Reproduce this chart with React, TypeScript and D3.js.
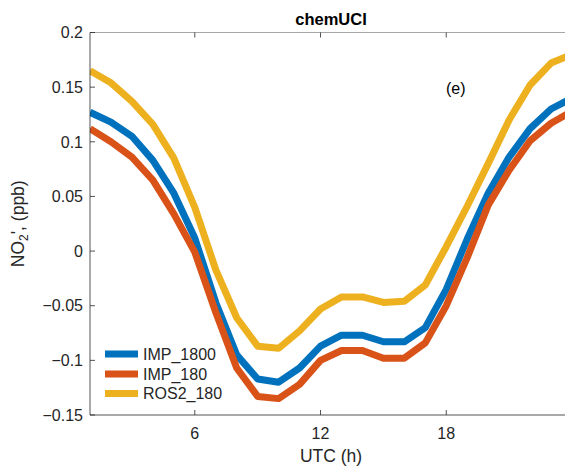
import * as d3 from "d3";
import { useEffect, useRef } from "react";

const hours = d3.range(1, 25);
const seriesNames = ["IMP_1800", "IMP_180", "ROS2_180"];
const imp1800 = [0.127, 0.118, 0.105, 0.083, 0.053, 0.012, -0.047, -0.095, -0.117, -0.12, -0.107, -0.087,
  -0.077, -0.077, -0.083, -0.083, -0.07, -0.035, 0.011, 0.053, 0.086, 0.112, 0.13, 0.14];
const imp180 = [0.112, 0.1, 0.086, 0.065, 0.034, -0.001, -0.056, -0.107, -0.133, -0.135, -0.122, -0.1,
  -0.091, -0.091, -0.098, -0.098, -0.084, -0.05, -0.006, 0.042, 0.074, 0.101, 0.117, 0.128];
const ros2180 = [0.165, 0.154, 0.137, 0.116, 0.085, 0.04, -0.017, -0.061, -0.087, -0.089, -0.073, -0.053,
  -0.042, -0.042, -0.047, -0.046, -0.031, 0.004, 0.041, 0.08, 0.12, 0.152, 0.172, 0.18];
const xTicks = [6, 12, 18];
const yTicks = [-0.15, -0.1, -0.05, 0, 0.05, 0.1, 0.15, 0.2];
const colors = ["#0072BD", "#D95319", "#EDB120"];

export default function App() {
  const ref = useRef<SVGSVGElement>(null);

  useEffect(() => {
    const svg = d3.select(ref.current);
    svg.selectAll("*").remove();
    const font = "'Liberation Sans', Arial, sans-serif";
    const ink = "#262626";

    // axes box runs past the right edge of the picture (hour 24 is cut off)
    const left = 90, right = 572, top = 32.5, bottom = 415;
    const x = d3.scaleLinear().domain([1, 24]).range([left, right]);
    const y = d3.scaleLinear().domain([-0.15, 0.2]).range([bottom, top]);

    svg.append("defs").append("clipPath").attr("id", "plotclip")
      .append("rect").attr("x", left).attr("y", top)
      .attr("width", right - left).attr("height", bottom - top);

    // lines, matlab order: blue, red, yellow on top
    const all = [imp1800, imp180, ros2180];
    const line = d3.line<number>().x((_, i) => x(hours[i])).y(d => y(d));
    const g = svg.append("g").attr("clip-path", "url(#plotclip)");
    all.forEach((vals, i) => {
      g.append("path").attr("d", line(vals)!)
        .attr("fill", "none").attr("stroke", colors[i])
        .attr("stroke-width", 7).attr("stroke-linejoin", "round");
    });

    // box
    svg.append("line").attr("x1", left).attr("x2", right).attr("y1", top).attr("y2", top)
      .attr("stroke", "#a6a6a6").attr("stroke-width", 1);
    svg.append("line").attr("x1", left).attr("x2", right).attr("y1", bottom).attr("y2", bottom)
      .attr("stroke", ink).attr("stroke-width", 0.8);
    svg.append("line").attr("x1", left).attr("x2", left).attr("y1", top).attr("y2", bottom)
      .attr("stroke", ink).attr("stroke-width", 0.8);

    // y ticks
    yTicks.forEach(t => {
      svg.append("line").attr("x1", left).attr("x2", left + 5).attr("y1", y(t)).attr("y2", y(t))
        .attr("stroke", ink).attr("stroke-width", 0.8);
      svg.append("text").attr("x", left - 7).attr("y", y(t)).attr("dy", "0.36em")
        .attr("text-anchor", "end").attr("font-family", font).attr("font-size", 16)
        .attr("fill", ink).text(d3.format("~g")(t));
    });

    // x ticks
    xTicks.forEach(t => {
      svg.append("line").attr("x1", x(t)).attr("x2", x(t)).attr("y1", bottom).attr("y2", bottom - 5)
        .attr("stroke", ink).attr("stroke-width", 0.8);
      svg.append("line").attr("x1", x(t)).attr("x2", x(t)).attr("y1", top).attr("y2", top + 5)
        .attr("stroke", ink).attr("stroke-width", 0.8);
      svg.append("text").attr("x", x(t)).attr("y", 438.5)
        .attr("text-anchor", "middle").attr("font-family", font).attr("font-size", 16)
        .attr("fill", ink).text(t);
    });

    // title and labels
    svg.append("text").attr("x", (left + right) / 2).attr("y", 25)
      .attr("text-anchor", "middle").attr("font-family", font).attr("font-size", 16.5)
      .attr("font-weight", "bold").attr("fill", "#000").text("chemUCI");
    svg.append("text").attr("x", (left + right) / 2).attr("y", 462)
      .attr("text-anchor", "middle").attr("font-family", font).attr("font-size", 17.5)
      .attr("fill", ink).text("UTC (h)");
    const yl = svg.append("text")
      .attr("transform", `translate(24,${(top + bottom) / 2}) rotate(-90)`)
      .attr("text-anchor", "middle").attr("font-family", font).attr("font-size", 17.5)
      .attr("fill", ink);
    yl.append("tspan").text("NO");
    yl.append("tspan").attr("font-size", 12).attr("dy", 4).text("2");
    yl.append("tspan").attr("dy", -4).text("', (ppb)");

    svg.append("text").attr("x", 446).attr("y", 94).attr("font-family", font)
      .attr("font-size", 16).attr("fill", "#000").text("(e)");

    // legend
    const legY = [354, 374, 393.5];
    seriesNames.forEach((name, i) => {
      svg.append("line").attr("x1", 105).attr("x2", 138).attr("y1", legY[i]).attr("y2", legY[i])
        .attr("stroke", colors[i]).attr("stroke-width", 7);
      svg.append("text").attr("x", 143).attr("y", legY[i]).attr("dy", "0.36em")
        .attr("font-family", font).attr("font-size", 16).attr("fill", ink).text(name);
    });
  }, []);

  return (
    <svg ref={ref} width={565} height={467}
      style={{ position: "absolute", left: 0, top: 0, background: "#fff" }} />
  );
}
